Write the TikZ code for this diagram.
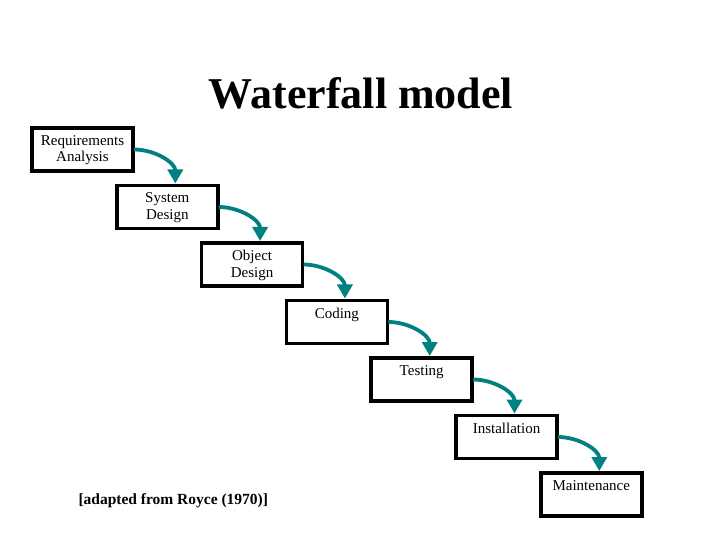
\documentclass[tikz,border=0pt]{standalone}
\usepackage{fontspec}
\setmainfont{Liberation Serif}
\usepackage{xcolor}
\usetikzlibrary{arrows.meta}

\definecolor{flowteal}{RGB}{0,128,128}

\tikzset{
  stagebox/.style={draw, line width=3.5bp, minimum width=101bp, minimum height=43bp,
    inner sep=0pt, outer sep=0pt},
  stagetext/.style={anchor=north, align=center, inner sep=0pt,
    font=\fontsize{15bp}{16.5bp}\selectfont},
  flow/.style={draw=flowteal, line width=3.8bp,
    -{Triangle[length=14bp,width=15bp]}}
}

\begin{document}
\begin{tikzpicture}[x=1bp, y=1bp]
    \useasboundingbox (0,0) rectangle (720,-540);
    \node[font=\fontsize{44bp}{48bp}\selectfont\bfseries] (title) at (361,-93) {Waterfall model};

    % the seven stages
    \foreach \i/\txt in {1/{Requirements\\Analysis}, 2/{System\\Design}, 3/{Object\\Design},
                         4/Coding, 5/Testing, 6/Installation, 7/Maintenance} {
        \node[stagebox] (s\i) at ({82.5+84.8*(\i-1)}, {-149.5-57.5*(\i-1)}) {};
        \node[stagetext] (t\i) at ([yshift=-7bp]s\i.north) {\txt};
    }

    % falling arrows
    \foreach \i [evaluate=\i as \j using int(\i+1)] in {1,...,6} {
        \draw[flow] ([xshift=1bp]s\i.east) to[out=0, in=90] ([xshift=8bp, yshift=2bp]s\j.north);
    }

    \node[anchor=base west, font=\fontsize{15.5bp}{18bp}\selectfont\bfseries] (cite) at (75,-504)
        {[adapted from Royce (1970)]};
\end{tikzpicture}
\end{document}
